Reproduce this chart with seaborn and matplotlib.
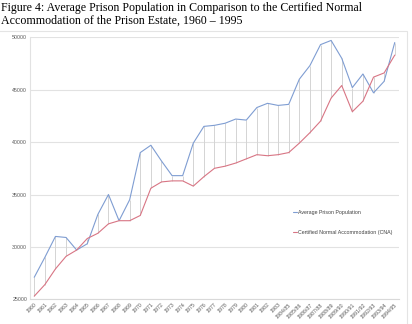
import pandas as pd
import matplotlib.pyplot as plt
import seaborn as sns
import numpy as np
from matplotlib.patches import Rectangle

# data
years = ["1960", "1961", "1962", "1963", "1964", "1965", "1966", "1967", "1968", "1969",
         "1970", "1971", "1972", "1973", "1974", "1975", "1976", "1977", "1978", "1979",
         "1980", "1981", "1982", "1983", "1984/85", "1985/86", "1986/87", "1987/88",
         "1988/89", "1989/90", "1990/91", "1991/92", "1992/93", "1993/94", "1994/95"]
population = [27100, 29000, 31000, 30900, 29700, 30300, 33100, 35000, 32500, 34500,
              39000, 39700, 38200, 36800, 36800, 39900, 41500, 41600, 41800, 42200,
              42100, 43300, 43700, 43500, 43600, 46000, 47300, 49300, 49700, 48000,
              45200, 46500, 44700, 45800, 49500]
cna = [25300, 26400, 27900, 29100, 29700, 30800, 31300, 32200, 32500, 32500,
       33000, 35600, 36200, 36300, 36300, 35800, 36700, 37500, 37700, 38000,
       38400, 38800, 38700, 38800, 39000, 39900, 40900, 42000, 44200, 45400,
       42900, 43900, 46200, 46600, 48300]
series_names = ["Average Prison Population", "Certified Normal Accommodation (CNA)"]

BLUE = "#7f9dd2"
RED = "#d87584"

sns.set_style("white")
plt.rcParams['font.family'] = ['Liberation Sans', 'DejaVu Sans']

idx = np.arange(len(years))
df = pd.concat([
    pd.DataFrame({"x": idx, "valor": population, "serie": series_names[0]}),
    pd.DataFrame({"x": idx, "valor": cna, "serie": series_names[1]}),
])

fig = plt.figure(figsize=(4.12, 3.24), dpi=100)
ax = fig.add_axes([0.0728, 0.0762, 0.8956, 0.8087])

# lineas entre las dos series (high-low)
ax.vlines(idx, np.minimum(population, cna), np.maximum(population, cna),
          color="#d4d4d4", linewidth=0.7, zorder=1)

sns.lineplot(data=df, x="x", y="valor", hue="serie", palette=[BLUE, RED],
             linewidth=0.8, ax=ax, zorder=3)

ax.set_ylim(25000, 50000)
ax.set_xlim(-0.4, len(years) - 0.6)
ax.set_yticks([25000, 30000, 35000, 40000, 45000, 50000])
ax.set_yticklabels([str(v) for v in [25000, 30000, 35000, 40000, 45000, 50000]])
ax.set_xticks(idx)
ax.set_xticklabels(years, rotation=45, ha="right", rotation_mode="anchor")
ax.tick_params(axis="both", labelsize=3.8, labelcolor="#595959", length=0, pad=2)
ax.set_xlabel("")
ax.set_ylabel("")
ax.grid(axis="y", color="#e2e2e2", linewidth=0.8)
ax.set_axisbelow(True)
for side in ["top", "right"]:
    ax.spines[side].set_visible(False)
ax.spines["left"].set_color("#e2e2e2")
ax.spines["bottom"].set_color("#d9d9d9")
ax.spines["left"].set_linewidth(0.8)
ax.spines["bottom"].set_linewidth(0.8)

ax.legend(loc="center left", bbox_to_anchor=(0.70, 0.294), frameon=False,
          fontsize=3.8, handlelength=0.8, handletextpad=0.2, labelspacing=2.8,
          labelcolor="#404040")

# borde del area del grafico
fig.patches.append(Rectangle((-0.01, -0.01), 407 / 412 + 0.01, 1 - 31 / 324 + 0.01,
                             transform=fig.transFigure, fill=False,
                             edgecolor="#e4e4e4", linewidth=0.8))

fig.text(0.003, 0.995, "Figure 4: Average Prison Population in Comparison to the Certified Normal\n"
         "Accommodation of the Prison Estate, 1960 \u2013 1995",
         ha="left", va="top", fontsize=8.6, family=["Liberation Serif", "DejaVu Serif"],
         linespacing=1.15, color="black")

plt.savefig("out.png", dpi=100)
plt.close()
